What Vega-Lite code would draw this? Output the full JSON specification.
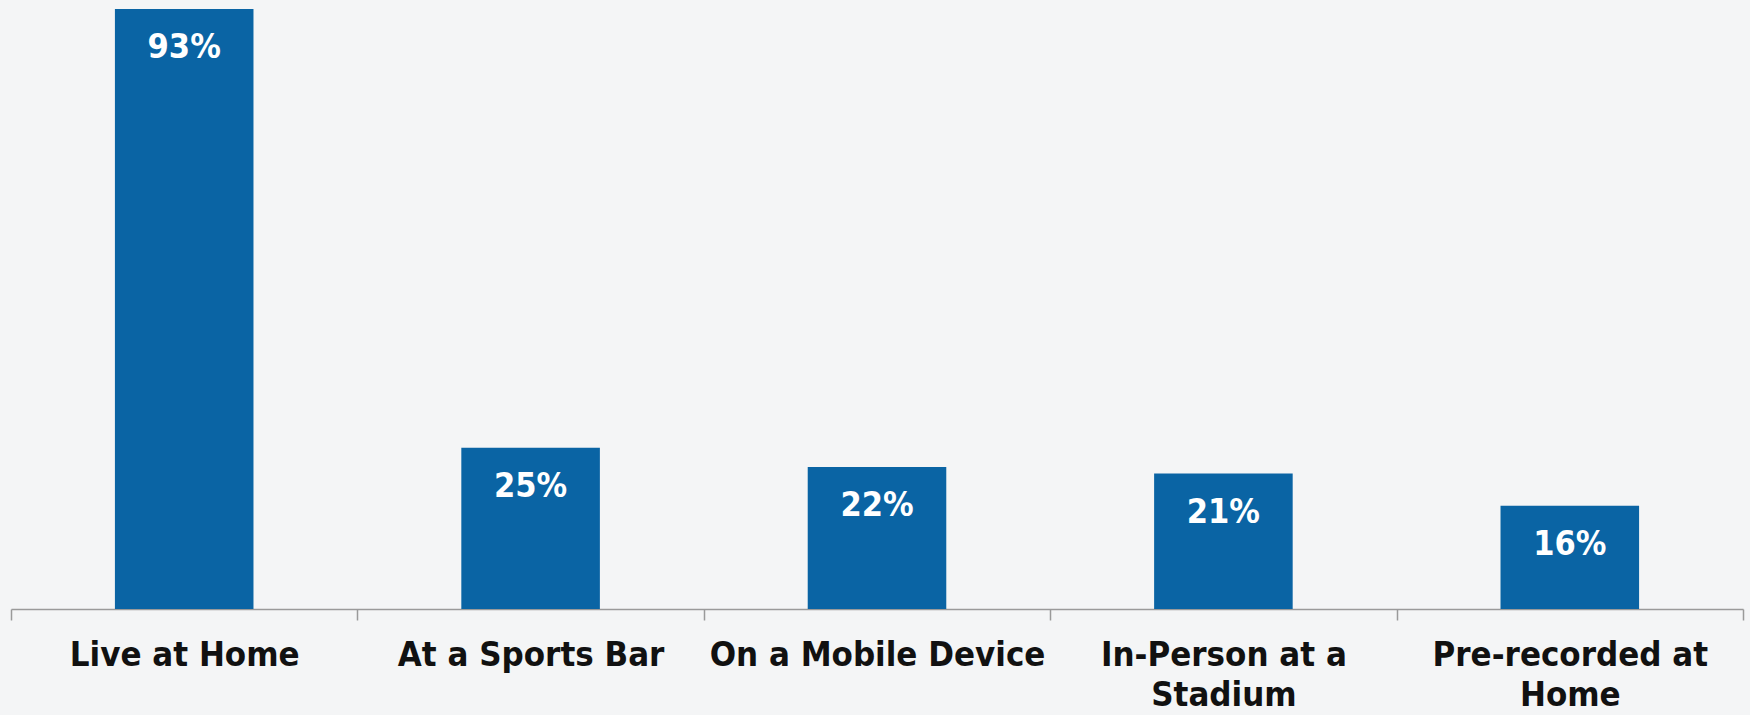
{
  "$schema": "https://vega.github.io/schema/vega-lite/v6.json",
  "width": 1732,
  "height": 600,
  "autosize": {"type": "none"},
  "padding": {"left": 11, "top": 9, "right": 7, "bottom": 106},
  "background": "#f4f5f6",
  "config": {"view": {"stroke": null}, "font": "DejaVu Sans Condensed"},
  "data": {
    "values": [
      {"place": "Live at Home", "pct": 0.93},
      {"place": "At a Sports Bar", "pct": 0.25},
      {"place": "On a Mobile Device", "pct": 0.22},
      {"place": "In-Person at a Stadium", "pct": 0.21},
      {"place": "Pre-recorded at Home", "pct": 0.16}
    ]
  },
  "encoding": {
    "x": {
      "field": "place",
      "type": "nominal",
      "sort": null,
      "scale": {"paddingInner": 0, "paddingOuter": 0},
      "axis": {
        "title": null,
        "labelAngle": 0,
        "tickBand": "extent",
        "tickSize": 11,
        "tickColor": "#9a9a9a",
        "domainColor": "#9a9a9a",
        "domainWidth": 1.5,
        "tickWidth": 1.5,
        "labelFont": "DejaVu Sans Condensed",
        "labelFontWeight": "bold",
        "labelFontSize": 34.5,
        "labelColor": "#111111",
        "labelPadding": 18,
        "labelLineHeight": 40,
        "labelLimit": 400,
        "labelExpr": "datum.value == 'In-Person at a Stadium' ? ['In-Person at a', 'Stadium'] : datum.value == 'Pre-recorded at Home' ? ['Pre-recorded at', 'Home'] : datum.value"
      }
    },
    "y": {
      "field": "pct",
      "type": "quantitative",
      "scale": {"domain": [0, 0.93], "nice": false},
      "axis": null
    }
  },
  "layer": [
    {"mark": {"type": "bar", "color": "#0a64a4", "width": {"band": 0.4}}},
    {
      "mark": {
        "type": "text",
        "baseline": "top",
        "dy": 22,
        "color": "white",
        "fontWeight": "bold",
        "fontSize": 34,
        "font": "DejaVu Sans Condensed"
      },
      "encoding": {"text": {"field": "pct", "type": "quantitative", "format": ".0%"}}
    }
  ]
}
